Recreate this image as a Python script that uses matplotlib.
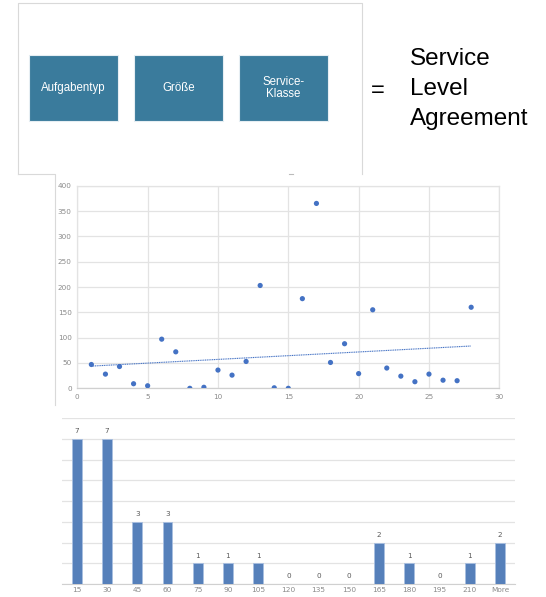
import numpy as np
import matplotlib
matplotlib.use("Agg")
import matplotlib.pyplot as plt
from matplotlib.patches import Rectangle

# boxes in the top diagram
box_labels = ["Aufgabentyp", "Größe", "Service-\nKlasse"]
result_lines = ["Service", "Level", "Agreement"]

# scatter: task number vs. duration
task_no = list(range(1, 29))
duration = [47, 28, 43, 9, 5, 97, 72, 0, 2, 36, 26, 53, 203, 1, 0, 177,
            365, 51, 88, 29, 155, 40, 24, 13, 28, 16, 15, 160]

# histogram
bins = ["15", "30", "45", "60", "75", "90", "105", "120", "135", "150",
        "165", "180", "195", "210", "More"]
freq = [7, 7, 3, 3, 1, 1, 1, 0, 0, 0, 2, 1, 0, 1, 2]

W, H = 546, 597
fig = plt.figure(figsize=(W / 100, H / 100), dpi=100)

# --- top diagram, drawn in pixel coords
ax0 = fig.add_axes([0, 0, 1, 1])
ax0.set_xlim(0, W)
ax0.set_ylim(H, 0)
ax0.axis("off")
edge = "#d9d9d9"
ax0.plot([18, 18, 362, 362], [174, 3, 3, 174], color=edge, lw=0.8)
ax0.plot([18, 55, 55], [174, 174, 405], color=edge, lw=0.8)
ax0.plot([289, 293], [174, 174], color="#bbbbbb", lw=0.8)

box_x = [29, 134, 239]
for x0, lab in zip(box_x, box_labels):
    ax0.add_patch(Rectangle((x0, 55), 89, 66, facecolor="#3a7b9c",
                            edgecolor="#e6eef3", lw=0.8))
    ax0.text(x0 + 44.5, 88, lab, color="white", ha="center", va="center",
             fontsize=8.3, family="Liberation Sans", linespacing=1.1)

ax0.text(378, 91, "=", fontsize=17, ha="center", va="center",
         family="Liberation Sans")
for i, line in enumerate(result_lines):
    ax0.text(410, 59 + i * 30, line, fontsize=17.5, ha="left", va="center",
             family="Liberation Sans")

tick_col = "#8a8a8a"
grid_col = "#e3e3e3"

# --- scatter with trendline
ax1 = fig.add_axes([77.3 / W, 1 - 388.3 / H, 422 / W, 202.6 / H])
ax1.set_facecolor("none")
ax1.scatter(task_no, duration, s=14, color="#4472c4", zorder=3,
            edgecolors="none")
k, d = np.polyfit(task_no, duration, 1)
xs = np.array([task_no[0], task_no[-1]])
ax1.plot(xs, k * xs + d, ls=(0, (1, 0.6)), color="#4472c4", lw=0.8,
         zorder=2)
ax1.set_xlim(0, 30)
ax1.set_ylim(0, 400)
ax1.set_xticks(range(0, 31, 5))
ax1.set_yticks(range(0, 401, 50))
ax1.grid(True, color=grid_col, lw=0.9)
ax1.set_axisbelow(True)
for s in ax1.spines.values():
    s.set_color(grid_col)
    s.set_linewidth(0.9)
ax1.spines["bottom"].set_color("#d0d0d0")
ax1.tick_params(length=0, labelsize=5.2, labelcolor=tick_col, pad=4)

# --- histogram
ax2 = fig.add_axes([61.7 / W, 1 - 584 / H, 453.3 / W, 165.7 / H])
ax2.set_facecolor("none")
pos = np.arange(len(bins))
ax2.bar(pos, freq, width=0.32, color="#5680ba", edgecolor="#a8bfe0",
        lw=0.6, zorder=3)
for p, v in zip(pos, freq):
    ax2.text(p, v + 0.22, str(v), ha="center", va="bottom", fontsize=5.2,
             color="#595959")
ax2.set_xlim(-0.5, len(bins) - 0.5)
ax2.set_ylim(0, 8)
ax2.set_yticks(range(0, 9))
ax2.set_xticks(pos)
ax2.set_xticklabels(bins)
ax2.grid(True, axis="y", color=grid_col, lw=0.9)
ax2.set_axisbelow(True)
for s in ax2.spines.values():
    s.set_visible(False)
ax2.spines["bottom"].set_visible(True)
ax2.spines["bottom"].set_color("#d0d0d0")
ax2.tick_params(length=0, labelsize=5.3, labelcolor=tick_col, pad=2,
                labelleft=False)

fig.savefig("out.png", dpi=100)
